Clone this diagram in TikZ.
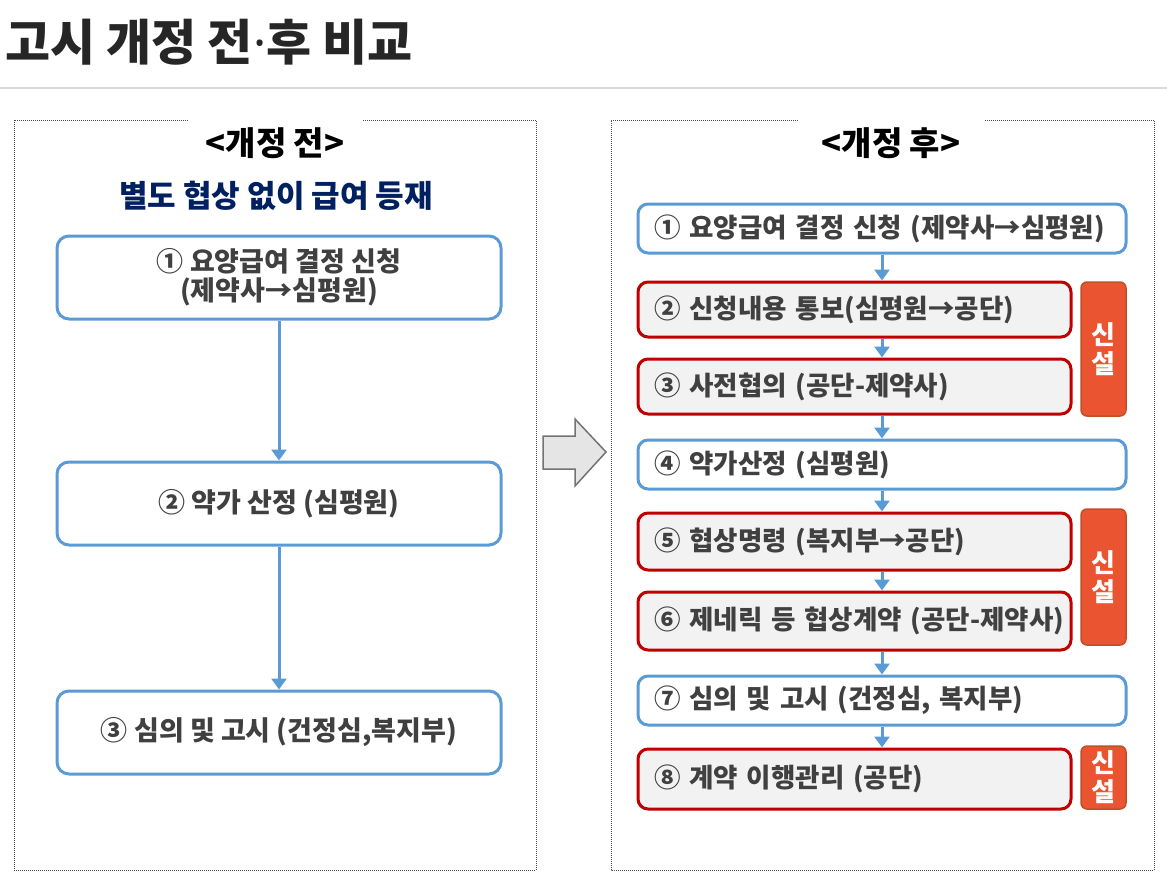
\documentclass[tikz,border=0pt]{standalone}
\usepackage{fontspec}
\setmainfont{Noto Sans CJK KR}
\newfontfamily\latinfont{Noto Sans}
\usetikzlibrary{arrows.meta}
\definecolor{flowblue}{RGB}{91,155,213}
\definecolor{newred}{RGB}{192,0,0}
\definecolor{badgeorange}{RGB}{234,84,48}
\definecolor{badgeedge}{RGB}{190,80,40}
\definecolor{textgray}{RGB}{64,64,64}
\definecolor{titlegray}{RGB}{38,38,38}
\definecolor{navyblue}{RGB}{0,32,96}
\definecolor{lightfill}{RGB}{242,242,242}
\begin{document}
\begin{tikzpicture}[x=1pt,y=-1pt, >={Triangle[width=15pt,length=11pt]},
  frame/.style={draw=black!70, line width=0.8pt, dash pattern=on 1pt off 1pt},
  oldbox/.style={draw=flowblue, line width=3pt, rounded corners=12pt, fill=white, minimum width=444pt, minimum height=83pt, inner sep=0pt, align=center, text=textgray, font=\fontsize{27}{29}\selectfont\bfseries},
  newbox/.style={draw=flowblue, line width=3pt, rounded corners=10pt, fill=white, text width=456pt, inner xsep=16pt, inner ysep=0pt, align=left, text=textgray, font=\fontsize{26.5}{29}\selectfont\bfseries},
  addbox/.style={newbox, draw=newred, fill=lightfill, text width=401pt},
  badge/.style={draw=badgeedge, line width=1.5pt, fill=badgeorange, rounded corners=6pt, minimum width=45pt, inner sep=0pt, align=center, text=white, font=\fontsize{26}{29}\selectfont\bfseries},
  flow/.style={->, draw=flowblue, line width=3pt}]
\useasboundingbox (0,0) rectangle (1167,883);
\node (title) at (5,42) [anchor=west, text=titlegray, font=\fontsize{49}{52}\selectfont\bfseries, inner sep=0pt] {고시 개정 전{\latinfont ·}후 비교};
\draw[black!15, line width=2pt] (0,88) -- (1167,88);
% left panel
\draw[frame] (188,120) -| (14,870) -| (536,120) -- (362,120);
\node (lefthead) at (275,143) [font=\fontsize{33}{35}\selectfont\bfseries] {<개정 전>};
\node (leftsub) at (276,196) [text=navyblue, font=\fontsize{31}{33}\selectfont\bfseries] {별도 협상 없이 급여 등재};
\node (b1) at (279,277.5) [oldbox] {① 요양급여 결정 신청\\(제약사→심평원)};
\node (b2) at (279,503.5) [oldbox] {② 약가 산정 (심평원)};
\node (b3) at (279,732.5) [oldbox] {③ 심의 및 고시 (건정심,복지부)};
\draw[flow] (b1) -- (b2);
\draw[flow] (b2) -- (b3);
% big arrow
\draw[fill=black!10, draw=black!55, line width=1.5pt] (543,436) -- (575,436) -- (575,419) -- (606,452) -- (575,486) -- (575,469) -- (543,469) -- cycle;
% right panel
\draw[frame] (798,120) -| (611,870) -| (1154,120) -- (984,120);
\node (righthead) at (891,143) [font=\fontsize{33}{35}\selectfont\bfseries] {<개정 후>};
\node (a1) at (882,228.5) [newbox, minimum height=49pt] {① 요양급여 결정 신청 (제약사→심평원)};
\node (a2) at (854.5,309.5) [addbox, minimum height=55pt] {② 신청내용 통보(심평원→공단)};
\node (a3) at (854.5,386.5) [addbox, minimum height=55pt] {③ 사전협의 (공단-제약사)};
\node (a4) at (882,464.5) [newbox, minimum height=49pt] {④ 약가산정 (심평원)};
\node (a5) at (854.5,541.5) [addbox, minimum height=57pt] {⑤ 협상명령 (복지부→공단)};
\node (a6) at (854.5,621) [addbox, minimum height=58pt] {\mbox{⑥ 제네릭 등 협상계약 (공단-제약사)}};
\node (a7) at (882,700.5) [newbox, minimum height=49pt] {⑦ 심의 및 고시 (건정심, 복지부)};
\node (a8) at (854.5,779) [addbox, minimum height=60pt] {⑧ 계약 이행관리 (공단)};
\node (n1) at (1103.5,349) [badge, minimum height=134pt] {신\\설};
\node (n2) at (1103.5,577) [badge, minimum height=136pt] {신\\설};
\node (n3) at (1103.5,777.5) [badge, minimum height=63pt] {신\\설};
\draw[flow] (a1.south) -- (a1.south |- a2.north);
\draw[flow] (a1.south |- a2.south) -- (a1.south |- a3.north);
\draw[flow] (a1.south |- a3.south) -- (a4.north);
\draw[flow] (a4.south) -- (a4.south |- a5.north);
\draw[flow] (a4.south |- a5.south) -- (a4.south |- a6.north);
\draw[flow] (a4.south |- a6.south) -- (a7.north);
\draw[flow] (a7.south) -- (a7.south |- a8.north);
\end{tikzpicture}
\end{document}
